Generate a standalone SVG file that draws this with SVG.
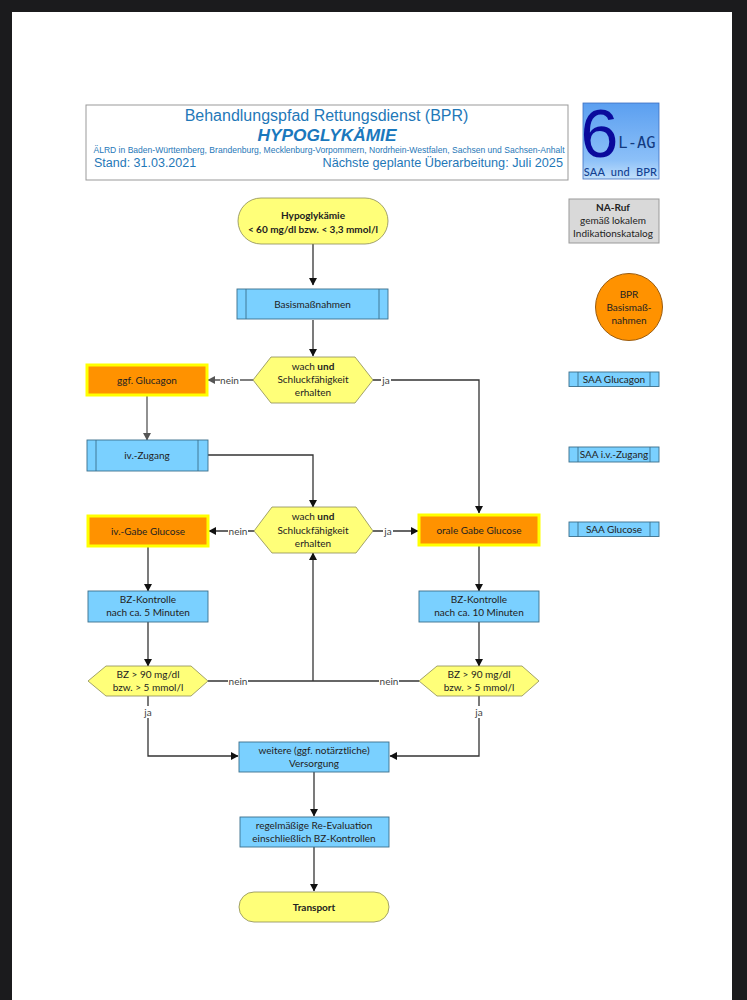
<svg xmlns="http://www.w3.org/2000/svg" width="747" height="1000" viewBox="0 0 747 1000">
<style>
text{font-family:Lato,"Liberation Sans",sans-serif;font-size:10px;fill:#222;text-anchor:middle}
.h{font-family:"Liberation Sans",Arial,sans-serif;fill:#1f78b8}
.b{font-weight:700}
.c{fill:none;stroke:#333;stroke-width:1.3}
.y{fill:#ffff79;stroke:#8a8a55;stroke-width:.8}
.s{fill:#7ad0ff;stroke:#3b6f8c;stroke-width:.9}
.o{fill:#ff9200;stroke:#ffff00;stroke-width:3}
.l{fill:#444}
</style>
<defs>
<marker id="a" markerWidth="8" markerHeight="8" refX="7" refY="4" orient="auto" markerUnits="userSpaceOnUse"><path d="M0 0L7.5 4L0 8z" fill="#111"/></marker>
<marker id="a2" markerWidth="8" markerHeight="8" refX="7" refY="4" orient="auto" markerUnits="userSpaceOnUse"><path d="M0 0L7.5 4L0 8z" fill="#555"/></marker>
<linearGradient id="g" x1="0" y1="0" x2="0" y2="1"><stop offset="0" stop-color="#5b9ff0"/><stop offset=".75" stop-color="#8cc0f8"/><stop offset="1" stop-color="#c2e0fb"/></linearGradient>
</defs>
<rect width="747" height="1000" fill="#1b1b1d"/>
<rect x="12" y="12" width="720" height="988" fill="#fff"/>
<g id="header">
<rect x="86" y="105" width="482" height="75" fill="#fff" stroke="#999" stroke-width="1"/>
<text class="h" x="326.500" y="121" style="font-size:16px">Behandlungspfad Rettungsdienst (BPR)</text>
<text class="h" x="327" y="141" style="font-size:17.300px;font-weight:700;font-style:italic;fill:#1a78bd">HYPOGLYKÄMIE</text>
<text class="h" x="329" y="153" style="font-size:8.550px">ÄLRD in Baden-Württemberg, Brandenburg, Mecklenburg-Vorpommern, Nordrhein-Westfalen, Sachsen und Sachsen-Anhalt</text>
<text class="h" x="94" y="167" style="font-size:12.500px;text-anchor:start">Stand: 31.03.2021</text>
<text class="h" x="563" y="167" style="font-size:12.700px;text-anchor:end">Nächste geplante Überarbeitung: Juli 2025</text>
</g>
<g id="logo">
<rect x="583" y="103" width="76" height="76" fill="url(#g)" stroke="#3c6fc0" stroke-width=".8"/>
<text x="599.500" y="157" style="font-family:'Liberation Sans',sans-serif;font-size:68px;fill:#0a0a9c">6</text>
<text x="637" y="148" style="font-family:'DejaVu Sans Mono',monospace;font-size:15.500px;fill:#123a80">L-AG</text>
<text x="620.500" y="176" style="font-size:11px;font-weight:500;fill:#123f90;word-spacing:3px;letter-spacing:.2px">SAA und BPR</text>
</g>
<g id="connectors">
<path class="c" d="M313 244V285" marker-end="url(#a)"/>
<path class="c" d="M313 320V356" marker-end="url(#a)"/>
<path class="c" d="M253 380H208" marker-end="url(#a2)" style="stroke:#555"/>
<path class="c" d="M373 380H479V513" marker-end="url(#a)"/>
<path class="c" d="M147 395V440" marker-end="url(#a2)" style="stroke:#555"/>
<path class="c" d="M208 455H313V507" marker-end="url(#a)"/>
<path class="c" d="M254 531H209" marker-end="url(#a)"/>
<path class="c" d="M373 531H418" marker-end="url(#a)"/>
<path class="c" d="M148 546V591" marker-end="url(#a)"/>
<path class="c" d="M479 546V591" marker-end="url(#a)"/>
<path class="c" d="M148 622V666" marker-end="url(#a)"/>
<path class="c" d="M479 622V666" marker-end="url(#a)"/>
<path class="c" d="M208 681H419"/>
<path class="c" d="M313 681V553" marker-end="url(#a)"/>
<path class="c" d="M148 696V756H238" marker-end="url(#a)"/>
<path class="c" d="M479 696V756H390" marker-end="url(#a)"/>
<path class="c" d="M314 772V816" marker-end="url(#a)"/>
<path class="c" d="M314 847V891" marker-end="url(#a)"/>
</g>
<g id="labels">
<rect x="220" y="374" width="20" height="12" fill="#fff"/><text class="l" x="229.500" y="384">nein</text>
<rect x="381" y="374" width="10" height="12" fill="#fff"/><text class="l" x="386" y="384">ja</text>
<rect x="228" y="525" width="20" height="12" fill="#fff"/><text class="l" x="238" y="535">nein</text>
<rect x="383" y="525" width="10" height="12" fill="#fff"/><text class="l" x="388" y="535">ja</text>
<rect x="228" y="675" width="20" height="12" fill="#fff"/><text class="l" x="238" y="685">nein</text>
<rect x="379" y="675" width="20" height="12" fill="#fff"/><text class="l" x="389" y="685">nein</text>
<rect x="143" y="706" width="10" height="12" fill="#fff"/><text class="l" x="148" y="716">ja</text>
<rect x="474" y="706" width="10" height="12" fill="#fff"/><text class="l" x="479" y="716">ja</text>
</g>
<g id="start"><rect class="y" x="238" y="198" width="150" height="46" rx="23"/><text class="b" x="313" y="219">Hypoglykämie</text><text class="b" x="313" y="233">&lt; 60 mg/dl bzw. &lt; 3,3 mmol/l</text></g>
<g id="basis"><rect class="s" x="237" y="289" width="151" height="30"/><path class="s" d="M246 289V319M379 289V319"/><text x="312.500" y="308">Basismaßnahmen</text></g>
<g id="d1"><path class="y" d="M253 380L271 357H355L373 380L355 403H271z"/><text x="313" y="370">wach <tspan class="b">und</tspan></text><text x="313" y="383">Schluckfähigkeit</text><text x="313" y="396">erhalten</text></g>
<g id="glucagon"><rect class="o" x="87" y="365" width="120" height="30"/><text x="147" y="384">ggf. Glucagon</text></g>
<g id="zugang"><rect class="s" x="87" y="440" width="121" height="31"/><path class="s" d="M96 440V471M198 440V471"/><text x="147" y="459">iv.-Zugang</text></g>
<g id="d2"><path class="y" d="M254 531L272 507H356L373 531L356 553H272z"/><text x="313" y="520">wach <tspan class="b">und</tspan></text><text x="313" y="534">Schluckfähigkeit</text><text x="313" y="547">erhalten</text></g>
<g id="ivgabe"><rect class="o" x="88" y="516" width="120" height="30"/><text x="148" y="535">iv.-Gabe Glucose</text></g>
<g id="oral"><rect class="o" x="419" y="515" width="120" height="30"/><text x="479" y="534">orale Gabe Glucose</text></g>
<g id="bz1"><rect class="s" x="88" y="591" width="120" height="31"/><text x="148" y="603">BZ-Kontrolle</text><text x="148" y="616">nach ca. 5 Minuten</text></g>
<g id="bz2"><rect class="s" x="419" y="591" width="120" height="31"/><text x="479" y="603">BZ-Kontrolle</text><text x="479" y="616">nach ca. 10 Minuten</text></g>
<g id="d3"><path class="y" d="M88 681L106 666H191L208 681L191 696H106z"/><text x="148" y="678">BZ &gt; 90 mg/dl</text><text x="148" y="691">bzw. &gt; 5 mmol/l</text></g>
<g id="d4"><path class="y" d="M419 681L437 666H522L539 681L522 696H437z"/><text x="479" y="678">BZ &gt; 90 mg/dl</text><text x="479" y="691">bzw. &gt; 5 mmol/l</text></g>
<g id="weitere"><rect class="s" x="239" y="742" width="150" height="30"/><text x="314" y="754">weitere (ggf. notärztliche)</text><text x="314" y="767">Versorgung</text></g>
<g id="reeval"><rect class="s" x="240" y="817" width="149" height="30"/><text x="314" y="829">regelmäßige Re-Evaluation</text><text x="314" y="842">einschließlich BZ-Kontrollen</text></g>
<g id="transport"><rect class="y" x="239" y="892" width="150" height="30" rx="15"/><text class="b" x="314" y="911">Transport</text></g>
<g id="naruf"><rect x="569" y="199" width="90" height="44" fill="#d9d9d9" stroke="#999"/><text class="b" x="613" y="211">NA-Ruf</text><text x="613" y="224">gemäß lokalem</text><text x="613" y="237">Indikationskatalog</text></g>
<g id="bpr"><circle cx="629" cy="307" r="33.500" fill="#ff9200" stroke="#9a5c10"/><text x="629" y="298">BPR</text><text x="629" y="311">Basismaß-</text><text x="629" y="323.500">nahmen</text></g>
<g id="saa1"><rect class="s" x="569" y="372" width="90" height="14.500"/><path class="s" d="M578 372V386.500M650 372V386.500"/><text x="614" y="382.500">SAA Glucagon</text></g>
<g id="saa2"><rect class="s" x="569" y="447" width="90" height="15"/><path class="s" d="M578 447V462M650 447V462"/><text x="614" y="458">SAA i.v.-Zugang</text></g>
<g id="saa3"><rect class="s" x="569" y="522" width="90" height="14.500"/><path class="s" d="M578 522V536.500M650 522V536.500"/><text x="614" y="533">SAA Glucose</text></g>
</svg>
